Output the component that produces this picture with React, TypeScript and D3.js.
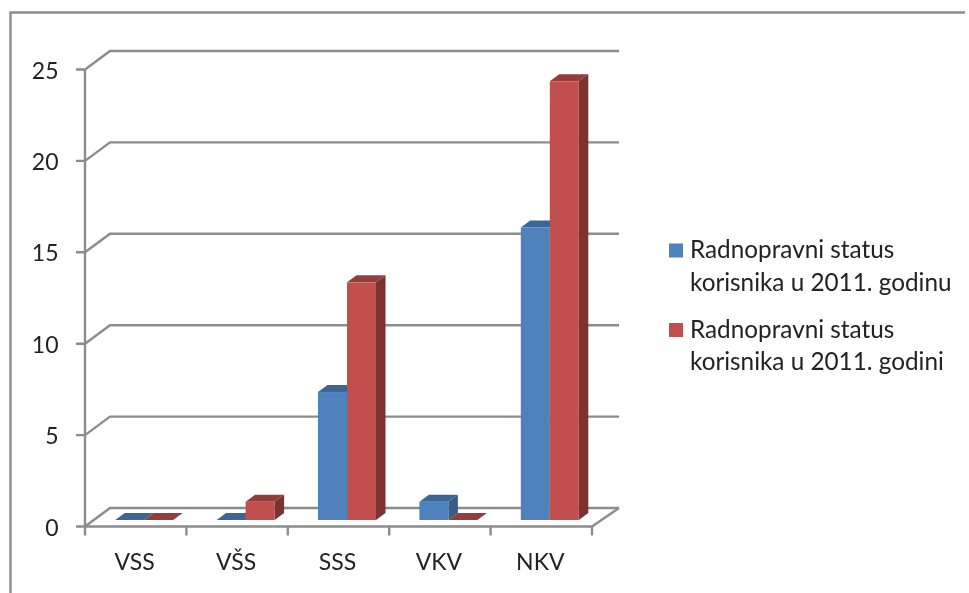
import React from 'react'
import { scaleBand, scaleLinear, range, path as d3path } from 'd3'

const categories = ['VSS', 'VŠS', 'SSS', 'VKV', 'NKV']
const series2011a = [0, 0, 7, 1, 16]
const series2011b = [0, 1, 13, 0, 24]
const yTicks = [0, 5, 10, 15, 20, 25]
const legendLines = [
  ['Radnopravni status', 'korisnika u 2011. godinu'],
  ['Radnopravni status', 'korisnika u 2011. godini'],
]
const seriesColors = [
  { front: '#4f81bd', top: '#3c6695', side: '#385d8a' },
  { front: '#c0504d', top: '#943e3c', side: '#7b302e' },
]

const width = 969
const height = 593
const axisColor = '#8c8c8c'
const font = 'Lato, Carlito, "Open Sans", sans-serif'

// front plane of the chart box
const x0 = 85
const x1 = 592
const yBottom = 526.5
const yTop = 69.5
// depth of the back wall and of a single bar
const wallDx = 25
const wallDy = -18.5
const barPlaneDx = 8.5
const barPlaneDy = -6.5
const barDx = 9.5
const barDy = -7

const xScale = scaleBand<string>().domain(categories).range([x0, x1])
const yScale = scaleLinear().domain([0, 25]).range([yBottom, yTop])
const barWidth = 29

const poly = (pts: number[][]) => {
  const p = d3path()
  pts.forEach((pt, i) => (i === 0 ? p.moveTo(pt[0], pt[1]) : p.lineTo(pt[0], pt[1])))
  p.closePath()
  return p.toString()
}

const Bar = ({ cat, value, s }: { cat: string; value: number; s: number }) => {
  const center = xScale(cat)! + xScale.bandwidth() / 2 + barPlaneDx
  const left = center - barWidth + s * barWidth
  const right = left + barWidth
  const base = yScale(0) + barPlaneDy
  const top = yScale(value) + barPlaneDy
  const c = seriesColors[s]
  return (
    <g>
      <path
        d={poly([[right, top], [right + barDx, top + barDy], [right + barDx, base + barDy], [right, base]])}
        fill={c.side}
      />
      <path
        d={poly([[left, top], [left + barDx, top + barDy], [right + barDx, top + barDy], [right, top]])}
        fill={c.top}
      />
      {value > 0 && <rect x={left} y={top} width={barWidth} height={base - top} fill={c.front} />}
    </g>
  )
}

export default function App() {
  return (
    <svg
      width={width}
      height={height}
      style={{ position: 'absolute', left: 0, top: 0, background: '#fff' }}
      fontFamily={font}
    >
      <defs>
        <filter id="soft" x="-5%" y="-5%" width="110%" height="110%">
          <feGaussianBlur stdDeviation="0.5" />
        </filter>
      </defs>
      <g filter="url(#soft)">
        <path d={`M10.5,${height}V12.5H965`} fill="none" stroke={axisColor} strokeWidth={2.4} />

        {/* walls and gridlines */}
        <g fill="none" stroke={axisColor} strokeWidth={2.4}>
          {yTicks.map((t) => (
            <path
              key={t}
              d={`M76,${yScale(t)}H${x0}L${x0 + wallDx},${yScale(t) + wallDy}H${x1 + wallDx + 2}`}
            />
          ))}
          <path d={`M${x0},${yTop}V${yBottom + 9}`} />
          <path d={`M${x0},${yBottom}H${x1}L${x1 + wallDx + 2},${yBottom + wallDy}`} />
          {range(1, categories.length).map((i) => (
            <path key={i} d={`M${xScale(categories[i])},${yBottom}v9`} />
          ))}
          <path d={`M${x1},${yBottom}v9`} />
        </g>

        {categories.map((cat, i) => (
          <g key={cat}>
            <Bar cat={cat} value={series2011a[i]} s={0} />
            <Bar cat={cat} value={series2011b[i]} s={1} />
          </g>
        ))}

        <g fontSize={23} fill="#222">
          {yTicks.map((t) => (
            <text key={t} x={58.5} y={yScale(t) + 9} textAnchor="end">
              {t}
            </text>
          ))}
        </g>
        <g fontSize={23} fill="#222" textAnchor="middle">
          {categories.map((cat) => (
            <text key={cat} x={xScale(cat)! + xScale.bandwidth() / 2 - 1} y={570}>
              {cat}
            </text>
          ))}
        </g>

        {legendLines.map((lines, i) => (
          <g key={i} transform={`translate(0,${i * 79.5})`}>
            <rect x={669} y={243.5} width={14} height={14} fill={seriesColors[i].front} />
            {lines.map((line, j) => (
              <text key={j} x={690} y={258 + j * 32.5} fontSize={24.3} fill="#222">
                {line}
              </text>
            ))}
          </g>
        ))}
      </g>
    </svg>
  )
}
